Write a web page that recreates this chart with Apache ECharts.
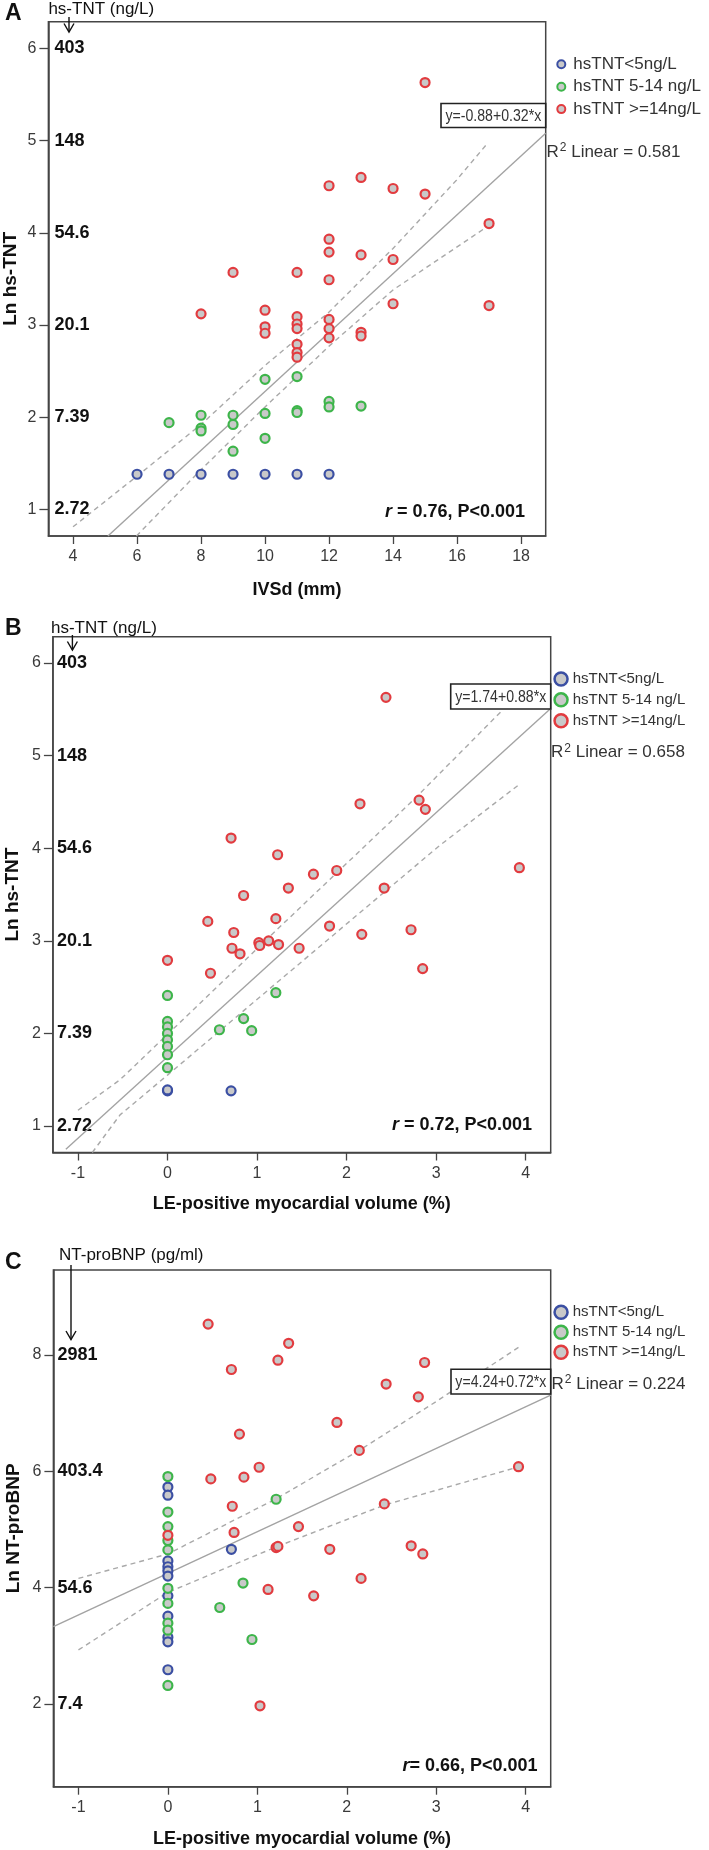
<!DOCTYPE html>
<html><head><meta charset="utf-8">
<script src="https://cdn.jsdelivr.net/npm/echarts@6/dist/echarts.min.js"></script>
<style>html,body{margin:0;padding:0;background:#fff}#c{width:709px;height:1850px}</style>
</head><body><div id="c"></div>
<script>
// ---------- categories ----------
const groupNames = ['hsTNT<5ng/L', 'hsTNT 5-14 ng/L', 'hsTNT >=14ng/L'];
const groupColors = ['#3b4fa3', '#3db54a', '#e23b3f'];

// ---------- Panel A : IVSd (mm) vs Ln hs-TNT ----------
const aBlue = [[6,1.38],[7,1.38],[8,1.38],[9,1.38],[10,1.38],[11,1.38],[12,1.38]];
const aGreen = [[7,1.94],[8,2.02],[8,1.88],[8,1.85],[9,2.02],[9,1.92],[9,1.63],[10,2.41],[10,2.04],[10,1.77],[11,2.44],[11,2.07],[11,2.05],[12,2.17],[12,2.11],[13,2.12]];
const aRed = [[8,3.12],[9,3.57],[10,3.16],[10,2.98],[10,2.91],[11,3.57],[11,3.09],[11,3.01],[11,2.96],[11,2.79],[11,2.70],[11,2.65],[12,4.51],[12,3.93],[12,3.79],[12,3.49],[12,3.06],[12,2.96],[12,2.86],[13,4.60],[13,3.76],[13,2.92],[13,2.88],[14,4.48],[14,3.71],[14,3.23],[15,5.63],[15,4.42],[17,4.10],[17,3.21]];
const aFit = [[5.09,0.71],[18.77,5.08]];
const aUpper = [[4,0.81],[6,1.36],[8,1.92],[10,2.56],[12,3.14],[14,3.83],[15.98,4.57],[16.95,4.97]];
const aLower = [[5.98,0.71],[8,1.43],[10,2.11],[12,2.77],[14,3.38],[17,4.08]];
const aXTicks = [4,6,8,10,12,14,16,18];
const aYTicks = [1,2,3,4,5,6];
const aLnLabels = ['2.72','7.39','20.1','54.6','148','403'];

// ---------- Panel B : LE-positive volume vs Ln hs-TNT ----------
const bBlue = [[0,1.38],[0,1.39],[0.71,1.38]];
const bGreen = [[0,2.41],[0,2.13],[0,2.07],[0,2.00],[0,1.93],[0,1.86],[0,1.77],[0,1.63],[0.58,2.04],[0.85,2.16],[0.94,2.03],[1.21,2.44]];
const bRed = [[2.44,5.63],[2.15,4.48],[2.81,4.52],[2.88,4.42],[0.71,4.11],[1.23,3.93],[1.63,3.72],[1.89,3.76],[3.93,3.79],[1.35,3.57],[2.42,3.57],[0.85,3.49],[0.45,3.21],[1.21,3.24],[1.81,3.16],[2.72,3.12],[0.74,3.09],[2.17,3.07],[1.02,2.98],[1.03,2.95],[1.13,3.00],[1.24,2.96],[0.72,2.92],[0.81,2.86],[1.47,2.92],[0,2.79],[0.48,2.65],[2.85,2.70]];
const bFit = [[-1.135,0.75],[4.28,5.51]];
const bUpper = [[-1.0,1.17],[-0.53,1.50],[0,1.99],[1.33,3.22],[2.745,4.52],[3.75,5.50]];
const bLower = [[-0.84,0.714],[-0.53,1.12],[0,1.55],[1.26,2.58],[3.04,4.03],[3.93,4.69]];
const bXTicks = [-1,0,1,2,3,4];
const bYTicks = [1,2,3,4,5,6];
const bLnLabels = ['2.72','7.39','20.1','54.6','148','403'];

// ---------- Panel C : LE-positive volume vs Ln NT-proBNP ----------
const cBlue = [[0,5.73],[0,5.59],[0,4.46],[0,4.36],[0,4.29],[0,4.20],[0,3.86],[0,3.51],[0,3.15],[0,3.07],[0,2.59],[0.71,4.66]];
const cGreen = [[0,5.91],[0,5.30],[0,5.05],[0,4.81],[0,4.65],[0,3.99],[0,3.73],[0,3.39],[0,3.27],[0,2.32],[1.21,5.52],[0.84,4.08],[0.58,3.66],[0.94,3.11]];
const cRed = [[0.45,8.53],[1.35,8.20],[1.23,7.91],[0.71,7.75],[2.87,7.87],[2.44,7.50],[2.80,7.28],[1.89,6.84],[0.80,6.64],[2.14,6.36],[1.02,6.07],[3.92,6.08],[0.48,5.87],[0.85,5.90],[0.72,5.40],[2.42,5.44],[1.46,5.05],[0.74,4.95],[0,4.90],[1.21,4.69],[1.23,4.71],[1.81,4.66],[2.72,4.72],[2.85,4.58],[2.16,4.16],[1.12,3.97],[1.63,3.86],[1.03,1.97]];
const cFit = [[-1.28,3.33],[4.28,7.31]];
const cUpper = [[-1.0,4.16],[0,4.58],[1.2,5.52],[2.14,6.36],[3.0,7.20],[3.93,8.14]];
const cLower = [[-1.0,2.93],[0,3.92],[1.21,4.70],[2.42,5.42],[3.93,6.08]];
const cXTicks = [-1,0,1,2,3,4];
const cYTicks = [2,4,6,8];
const cLnLabels = ['7.4','54.6','403.4','2981'];

// ---------- texts ----------
const panelLetters = ['A','B','C'];
const unitLabels = ['hs-TNT (ng/L)','hs-TNT (ng/L)','NT-proBNP (pg/ml)'];
const xNames = ['IVSd (mm)','LE-positive myocardial volume (%)','LE-positive myocardial volume (%)'];
const yNames = ['Ln hs-TNT','Ln hs-TNT','Ln NT-proBNP'];
const equations = ['y=-0.88+0.32*x','y=1.74+0.88*x','y=4.24+0.72*x'];
const r2Values = ['0.581','0.658','0.224'];
const rTexts = [' = 0.76, P<0.001',' = 0.72, P<0.001','= 0.66, P<0.001'];

const FONT = "'Liberation Sans', Arial, sans-serif";
const FILL = '#c9c9c9';

const grids = [
  {left:48.4, top:21.7, width:497.3, height:514.3},
  {left:52.9, top:636.7, width:497.8, height:515.8},
  {left:53.4, top:1270, width:497.3, height:516.7}
];
const xRanges = [[3.23,18.77],[-1.28,4.28],[-1.28,4.28]];
const yRanges = [[0.71,6.29],[0.714,6.285],[0.58,9.46]];
const xTicks = [aXTicks,bXTicks,cXTicks];
const yTicks = [aYTicks,bYTicks,cYTicks];
const lnLabels = [aLnLabels,bLnLabels,cLnLabels];
const xNameGap = [45,43,43];
const yNameGap = [28,31,30];
const lnMargin = [6,4,4];
const AXC = '#454545';

const chart = echarts.init(document.getElementById('c'), null, {renderer:'canvas'});

const xAxis = [], yAxis = [];
for (let i = 0; i < 3; i++) {
  xAxis.push({
    gridIndex:i, type:'value', min:xRanges[i][0], max:xRanges[i][1], position:'bottom',
    axisLine:{show:true, onZero:false, lineStyle:{color:AXC, width:1.5}}, splitLine:{show:false},
    axisTick:{show:true, inside:false, customValues:xTicks[i], length:8, lineStyle:{color:AXC, width:1.3}},
    axisLabel:{customValues:xTicks[i], margin:13, fontSize:16, color:'#3a3a3a', fontFamily:FONT},
    name:xNames[i], nameLocation:'middle', nameGap:xNameGap[i], nameMoveOverlap:false,
    nameTextStyle:{fontSize:18, fontWeight:'bold', color:'#111', fontFamily:FONT}
  });
  yAxis.push({
    gridIndex:i, type:'value', min:yRanges[i][0], max:yRanges[i][1], position:'left',
    axisLine:{show:true, onZero:false, lineStyle:{color:AXC, width:1.5}}, splitLine:{show:false},
    axisTick:{show:true, inside:false, customValues:yTicks[i], length:9, lineStyle:{color:AXC, width:1.3}},
    axisLabel:{customValues:yTicks[i], margin:12, fontSize:16, color:'#3a3a3a', fontFamily:FONT},
    name:yNames[i], nameLocation:'middle', nameGap:yNameGap[i], nameMoveOverlap:false,
    nameTextStyle:{fontSize:19, fontWeight:'bold', color:'#111', fontFamily:FONT}
  });
  const tk = yTicks[i], lb = lnLabels[i];
  yAxis.push({
    gridIndex:i, type:'value', min:yRanges[i][0], max:yRanges[i][1], position:'left',
    axisLine:{show:false, onZero:false}, splitLine:{show:false}, axisTick:{show:false},
    axisLabel:{inside:true, customValues:tk, margin:lnMargin[i], fontSize:18, fontWeight:'bold', color:'#111', fontFamily:FONT,
      formatter:(v)=>{ const k = tk.indexOf(Math.round(v)); return k>=0 ? lb[k] : ''; }}
  });
}

const series = [];
function addScatter(name, data, color, gi) {
  series.push({type:'scatter', name, data, xAxisIndex:gi, yAxisIndex:gi*2, symbol:'circle', symbolSize:9,
    itemStyle:{color:FILL, borderColor:color, borderWidth:2.2, opacity:1}, z:4, emphasis:{disabled:true}, silent:true});
}
function addLine(data, gi, dashed) {
  series.push({type:'line', data, xAxisIndex:gi, yAxisIndex:gi*2, showSymbol:false, symbol:'none', z:2, silent:true,
    lineStyle: dashed ? {color:'#a9a9a9', width:1.4, type:[5,4]} : {color:'#a3a3a3', width:1.4}, emphasis:{disabled:true}, clip:true});
}
const panelData = [[aBlue,aGreen,aRed,aFit,aUpper,aLower],[bBlue,bGreen,bRed,bFit,bUpper,bLower],[cBlue,cGreen,cRed,cFit,cUpper,cLower]];
panelData.forEach((p, gi) => {
  addLine(p[3], gi, false); addLine(p[4], gi, true); addLine(p[5], gi, true);
  addScatter(groupNames[0], p[0], groupColors[0], gi);
  addScatter(groupNames[1], p[1], groupColors[1], gi);
  addScatter(groupNames[2], p[2], groupColors[2], gi);
});

// legends
const legendSpecs = [
  {left:556.3, top:55.3, iw:14, ih:8, bw:2, gap:4.4, fs:17, lh:18},
  {left:553.3, top:671, iw:13.4, ih:13, bw:2.5, gap:4.85, fs:15, lh:16},
  {left:553.3, top:1304.3, iw:13.4, ih:13, bw:2.5, gap:4, fs:15, lh:16}
];
const legend = legendSpecs.map(s => ({
  orient:'vertical', left:s.left, top:s.top, padding:0, itemWidth:s.iw, itemHeight:s.ih, itemGap:s.gap,
  selectedMode:false, textStyle:{fontSize:s.fs, lineHeight:s.lh, color:'#333', fontFamily:FONT},
  data: groupNames.map((n,k)=>({name:n, icon:'circle', itemStyle:{color:FILL, borderColor:groupColors[k], borderWidth:s.bw}}))
}));

// annotations
const g = [];
function txt(x, y, text, opt, extra) {
  g.push(Object.assign({type:'text', z:20, style:Object.assign({x, y, text, fill:'#111', fontFamily:FONT, fontSize:16, align:'left', verticalAlign:'middle'}, opt||{})}, extra||{}));
}
const letterY = [14, 629, 1263];
const unitPos = [[48.4,9],[51,628],[59,1255]];
const arrows = [ {x:69, y1:17, y2:32}, {x:72.4, y1:635, y2:650}, {x:71, y1:1265, y2:1339.5} ];
const eqBoxes = [ {x:441, y:103.5, w:104.7, h:24}, {x:450.7, y:684, w:100, h:25}, {x:451, y:1369.3, w:99.7, h:24.7} ];
const r2Pos = [[546.5,152],[551,752.7],[551.5,1384]];
const rPos = [[525,511.8],[532,1125.5],[537.5,1766]];
for (let i = 0; i < 3; i++) {
  txt(5, letterY[i], panelLetters[i], {fontSize:23, fontWeight:'bold'});
  txt(unitPos[i][0], unitPos[i][1], unitLabels[i], {fontSize:17});
  const a = arrows[i];
  g.push({type:'line', z:20, shape:{x1:a.x, y1:a.y1, x2:a.x, y2:a.y2}, style:{stroke:'#111', lineWidth:1.4}});
  g.push({type:'polyline', z:20, shape:{points:[[a.x-5,a.y2-8.5],[a.x,a.y2],[a.x+5,a.y2-8.5]]}, style:{stroke:'#111', lineWidth:1.4, fill:null}});
  const b = eqBoxes[i];
  g.push({type:'rect', z:19, shape:{x:b.x, y:b.y, width:b.w, height:b.h}, style:{fill:'#fff', stroke:'#222', lineWidth:1.6}});
  const cx = b.x + b.w/2, cy = b.y + b.h/2 + 0.5;
  txt(0, 0, equations[i], {fontSize:17, align:'center', fill:'#333'}, {x:cx, y:cy, scaleX:0.83, scaleY:1});
  txt(r2Pos[i][0], r2Pos[i][1], '{a|R}{s|2}{a| Linear = ' + r2Values[i] + '}', {fill:'#333',
    rich:{a:{fontSize:17, fontFamily:FONT, fill:'#333', color:'#333'}, s:{fontSize:12, fontFamily:FONT, fill:'#333', color:'#333', padding:[0,0,9,1]}}});
  txt(rPos[i][0], rPos[i][1], '{i|r}{b|' + rTexts[i] + '}', {align:'right',
    rich:{i:{fontSize:18, fontWeight:'bold', fontStyle:'italic', fontFamily:FONT, fill:'#111', color:'#111'}, b:{fontSize:18, fontWeight:'bold', fontFamily:FONT, fill:'#111', color:'#111'}}});
}

const gridOpts = grids.map(q => Object.assign({show:true, borderColor:AXC, borderWidth:1.5, backgroundColor:'rgba(0,0,0,0)', containLabel:false, outerBoundsMode:'none'}, q));

chart.setOption({
  animation:false,
  backgroundColor:'#fff',
  grid:gridOpts,
  xAxis, yAxis, series, legend,
  graphic:{elements:g}
});
</script></body></html>
